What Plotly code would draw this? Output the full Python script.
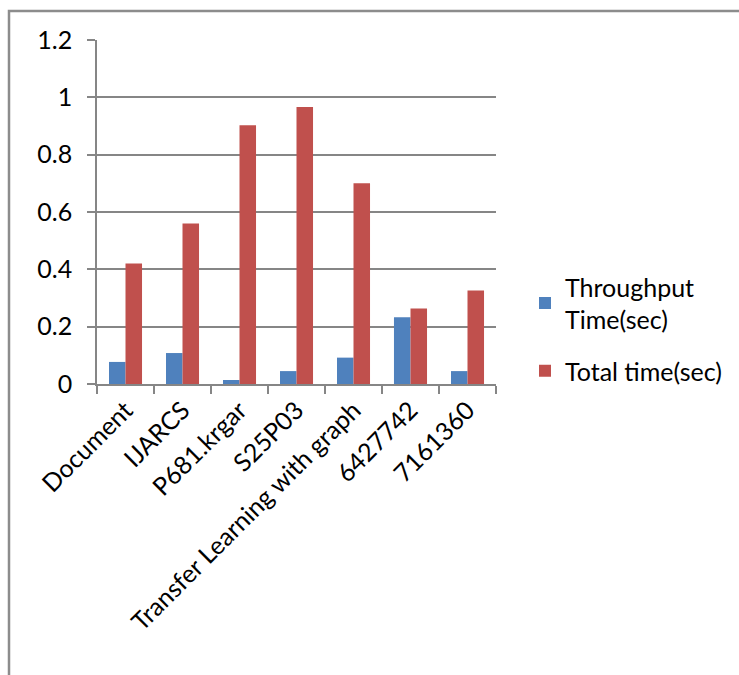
import plotly.graph_objects as go

categories = ["Document", "IJARCS", "P681.krgar", "S25P03",
              "Transfer Learning with graph", "6427742", "7161360"]
throughput_time = [0.077, 0.108, 0.014, 0.045, 0.092, 0.233, 0.045]
total_time = [0.42, 0.56, 0.903, 0.966, 0.70, 0.263, 0.326]
series_names = ["Throughput<br>Time(sec)", "Total time(sec)"]
y_ticks = [0, 0.2, 0.4, 0.6, 0.8, 1.0, 1.2]
y_tick_text = ["0", "0.2", "0.4", "0.6", "0.8", "1", "1.2"]

W, H = 739, 675
L, R, T, B = 97, 243, 40, 291
plot_w = W - L - R
plot_h = H - T - B

font = dict(family="Lato, Open Sans, sans-serif", size=25, color="#000000")
grid = "#868686"

fig = go.Figure()
fig.add_trace(go.Bar(x=categories, y=throughput_time, name=series_names[0],
                     legendgroup="throughput",
                     marker=dict(color="#4F81BD", line=dict(width=0))))
fig.add_trace(go.Bar(x=categories, y=total_time, name=series_names[1],
                     legendgroup="total",
                     marker=dict(color="#C0504D", line=dict(width=0))))

# outer chart border (right and bottom edges sit beyond the page)
fig.add_shape(type="rect", xref="paper", yref="paper",
              x0=(9 - L) / plot_w, x1=(W + 20 - L) / plot_w,
              y0=-(B + 20) / plot_h, y1=1 + (T - 11) / plot_h,
              line=dict(color="#8c8c8c", width=2.5), layer="below")

fig.update_layout(
    width=W, height=H,
    margin=dict(l=L, r=R, t=T, b=B),
    paper_bgcolor="white", plot_bgcolor="white",
    font=font,
    barmode="group", bargap=0.42, bargroupgap=0,
    legend=dict(x=(525 - L) / plot_w, y=(384 - 264) / plot_h,
                xanchor="left", yanchor="top", traceorder="grouped",
                font=font, tracegroupgap=16, itemwidth=30,
                bgcolor="rgba(0,0,0,0)"),
    xaxis=dict(type="category", tickson="boundaries", ticks="outside",
               ticklen=8, tickwidth=1.5, tickcolor=grid,
               showline=True, linecolor=grid, linewidth=1.5,
               showgrid=False, tickangle=-45, tickfont=font,
               automargin=False),
    yaxis=dict(range=[0, 1.2], tickvals=y_ticks, ticktext=y_tick_text,
               ticks="outside", ticklen=8, tickwidth=1.5, tickcolor=grid,
               showline=True, linecolor=grid, linewidth=1.5,
               showgrid=True, gridcolor=grid, gridwidth=1.5,
               zeroline=False, tickfont=font, ticklabelstandoff=10,
               automargin=False),
)

fig.write_html("out.html")
